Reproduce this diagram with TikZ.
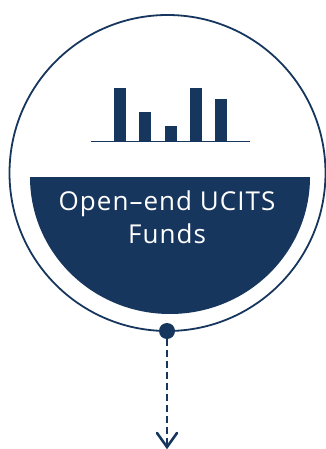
\documentclass[tikz,border=0pt]{standalone}
\usepackage{fontspec}
\setmainfont{Open Sans}
\definecolor{navy}{HTML}{17365E}
\tikzset{
  ring/.style={draw=navy,line width=1.8pt,circle,minimum size=316pt,inner sep=0pt},
  bar/.style={fill=navy,draw=none},
  dotnode/.style={fill=navy,circle,minimum size=16pt,inner sep=0pt},
  label/.style={text=white,align=center,font=\fontsize{26}{33}\selectfont\addfontfeature{LetterSpace=4}}
}
\begin{document}
\begin{tikzpicture}[x=1pt,y=-1pt]
\useasboundingbox (0,0) rectangle (326,449);
\node[ring] (circ) at (167.5,173) {};
\foreach \xa/\ya in {114/88,139/112,165/126,190/88,215/99}
  \fill[bar] (\xa,\ya) rectangle (\xa+12,141);
\draw[navy,line width=1.8pt] (91,141.5) -- (250,141.5);
\fill[navy] (30,177) -- (310,177) arc[start angle=0,end angle=180,x radius=140,y radius=137] -- cycle;
\node[label] (txt) at (167,217) {Open–end UCITS\\Funds};
\node[dotnode] (dot) at (167,331) {};
\coordinate (tip) at (167,447);
\draw[navy,line width=2.6pt,dashed,dash pattern=on 7pt off 4pt] (dot) -- (tip);
\draw[navy,line width=2.6pt,line cap=round] (157,433) -- (tip) -- (177,433);
\end{tikzpicture}
\end{document}
